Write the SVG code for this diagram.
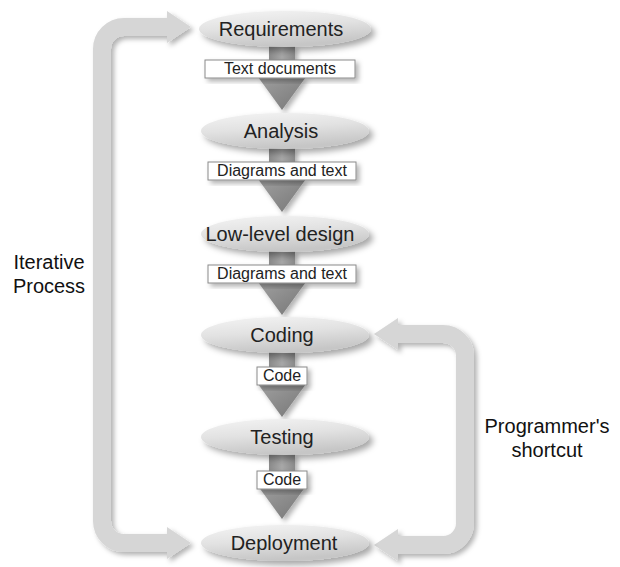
<svg xmlns="http://www.w3.org/2000/svg" width="620" height="567" viewBox="0 0 620 567">
  <defs>
    <filter id="sh" x="-20%" y="-30%" width="150%" height="180%">
      <feDropShadow dx="4" dy="4" stdDeviation="3" flood-color="#000" flood-opacity="0.35"/>
    </filter>
    <filter id="shs" x="-20%" y="-20%" width="150%" height="150%">
      <feDropShadow dx="3" dy="3" stdDeviation="2.5" flood-color="#000" flood-opacity="0.3"/>
    </filter>
    <linearGradient id="ell" x1="0" y1="0" x2="0.3" y2="1">
      <stop offset="0" stop-color="#f4f4f4"/>
      <stop offset="0.5" stop-color="#e2e2e2"/>
      <stop offset="1" stop-color="#c6c6c6"/>
    </linearGradient>
    <linearGradient id="arr" x1="0" y1="0" x2="1" y2="1">
      <stop offset="0" stop-color="#a0a0a0"/>
      <stop offset="1" stop-color="#767676"/>
    </linearGradient>
    <linearGradient id="stem" x1="0" y1="0" x2="1" y2="0">
      <stop offset="0" stop-color="#8a8a8a"/>
      <stop offset="0.5" stop-color="#a8a8a8"/>
      <stop offset="1" stop-color="#8a8a8a"/>
    </linearGradient>
    <linearGradient id="loop" x1="0" y1="0" x2="1" y2="0">
      <stop offset="0" stop-color="#e4e4e4"/>
      <stop offset="1" stop-color="#cccccc"/>
    </linearGradient>
    <style>
      .node ellipse { fill: url(#ell); filter: url(#sh); }
      .ntext { font-family: "Liberation Sans", Arial, sans-serif; font-size: 20px; fill: #222; text-anchor: middle; }
      .lbl rect { fill: #fff; stroke: #8a8a8a; stroke-width: 1; filter: url(#shs); }
      .ltext { font-family: "Liberation Sans", Arial, sans-serif; font-size: 16px; fill: #222; text-anchor: middle; }
      .band { fill: none; stroke: #d6d6d6; stroke-width: 18; }
      .bhead { fill: #d6d6d6; }
      .side { font-family: "Liberation Sans", Arial, sans-serif; font-size: 20px; fill: #111; text-anchor: middle; }
      .stem { fill: url(#stem); }
      .head { fill: url(#arr); }
    </style>
  </defs>

  <g id="connectors">
    <!-- iterative loop -->
    <g filter="url(#shs)">
      <path class="band" d="M167 27 H124 A22 22 0 0 0 102 49 V521 A22 22 0 0 0 124 543 H167"/>
      <polygon class="bhead" points="167,11 191,27 167,43"/>
      <polygon class="bhead" points="167,527 191,543 167,559"/>
    </g>
    <!-- programmer's shortcut -->
    <g filter="url(#shs)">
      <path class="band" d="M398 334 H443 A22 22 0 0 1 465 356 V523 A22 22 0 0 1 443 545 H398"/>
      <polygon class="bhead" points="398,318 374,334 398,350"/>
      <polygon class="bhead" points="398,529 374,545 398,561"/>
    </g>
    <!-- flow arrows -->
    <g filter="url(#shs)">
      <rect class="stem" x="269" y="46" width="26" height="34"/>
      <polygon class="head" points="258,77 306,77 282,110"/>
      <rect class="stem" x="269" y="148" width="26" height="34"/>
      <polygon class="head" points="258,179 306,179 282,212"/>
      <rect class="stem" x="269" y="251" width="26" height="34"/>
      <polygon class="head" points="258,282 306,282 282,315"/>
      <rect class="stem" x="269" y="352" width="26" height="34"/>
      <polygon class="head" points="258,384 306,384 282,417"/>
      <rect class="stem" x="269" y="454" width="26" height="34"/>
      <polygon class="head" points="258,486 306,486 282,519"/>
    </g>
    <g class="lbl">
      <rect x="205" y="60" width="150" height="18"/>
      <text class="ltext" x="280" y="74">Text documents</text>
    </g>
    <g class="lbl">
      <rect x="208" y="162" width="148" height="18"/>
      <text class="ltext" x="282" y="176">Diagrams and text</text>
    </g>
    <g class="lbl">
      <rect x="208" y="265" width="148" height="18"/>
      <text class="ltext" x="282" y="279">Diagrams and text</text>
    </g>
    <g class="lbl">
      <rect x="257" y="367" width="50" height="18"/>
      <text class="ltext" x="282" y="381">Code</text>
    </g>
    <g class="lbl">
      <rect x="257" y="471" width="50" height="18"/>
      <text class="ltext" x="282" y="485">Code</text>
    </g>
  </g>

  <g id="n-requirements" class="node">
    <ellipse cx="285" cy="29" rx="86" ry="18"/>
    <text class="ntext" x="281" y="36">Requirements</text>
  </g>
  <g id="n-analysis" class="node">
    <ellipse cx="285" cy="131" rx="84" ry="18"/>
    <text class="ntext" x="281" y="138">Analysis</text>
  </g>
  <g id="n-lowlevel" class="node">
    <ellipse cx="285" cy="234" rx="84" ry="18"/>
    <text class="ntext" x="280" y="241">Low-level design</text>
  </g>
  <g id="n-coding" class="node">
    <ellipse cx="285" cy="335" rx="84" ry="18"/>
    <text class="ntext" x="282" y="342">Coding</text>
  </g>
  <g id="n-testing" class="node">
    <ellipse cx="285" cy="437" rx="84" ry="18"/>
    <text class="ntext" x="282" y="444">Testing</text>
  </g>
  <g id="n-deployment" class="node">
    <ellipse cx="285" cy="543" rx="84" ry="18"/>
    <text class="ntext" x="284" y="550">Deployment</text>
  </g>

  <g id="label-iterative">
    <text class="side" x="49" y="269">Iterative</text>
    <text class="side" x="49" y="293">Process</text>
  </g>
  <g id="label-shortcut">
    <text class="side" x="547" y="433">Programmer's</text>
    <text class="side" x="547" y="457">shortcut</text>
  </g>
</svg>
